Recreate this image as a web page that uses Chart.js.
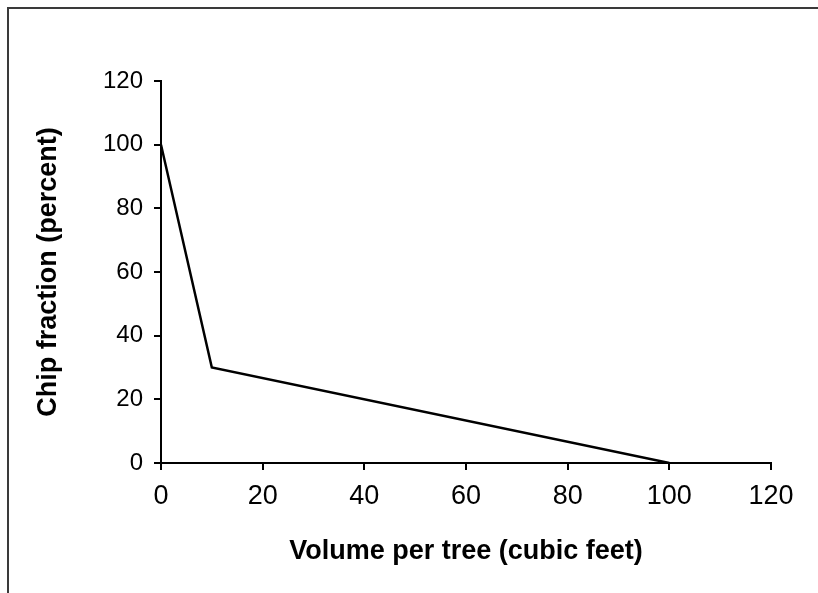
<!DOCTYPE html>
<html>
<head>
<meta charset="utf-8">
<script src="https://cdn.jsdelivr.net/npm/chart.js@4"></script>
<style>
html,body{margin:0;padding:0;background:#fff;}
#wrap{position:relative;width:818px;height:593px;}
</style>
</head>
<body>
<div id="wrap"><canvas id="c" width="818" height="593"></canvas></div>
<script>
const volumePerTree = [0, 10, 100];
const chipFraction = [100, 30, 0];
const xTicks = [0, 20, 40, 60, 80, 100, 120];
const yTicks = [0, 20, 40, 60, 80, 100, 120];
const xTitle = 'Volume per tree (cubic feet)';
const yTitle = 'Chip fraction (percent)';

const points = volumePerTree.map((v, i) => ({x: v, y: chipFraction[i]}));

const framePlugin = {
  id: 'frame',
  beforeDraw(chart) {
    const ctx = chart.ctx;
    ctx.save();
    ctx.fillStyle = '#fff';
    ctx.fillRect(0, 0, chart.width, chart.height);
    ctx.strokeStyle = '#3a3a3a';
    ctx.lineWidth = 2;
    ctx.beginPath();
    ctx.moveTo(8, 593);
    ctx.lineTo(8, 8);
    ctx.lineTo(818, 8);
    ctx.stroke();
    ctx.restore();
  }
};

const yTickFont = {family: 'Liberation Sans, Arial, sans-serif', size: 24};
const xTickFont = {family: 'Liberation Sans, Arial, sans-serif', size: 27};
const titleFont = {family: 'Liberation Sans, Arial, sans-serif', size: 27, weight: 'bold'};

new Chart(document.getElementById('c'), {
  type: 'line',
  data: {
    datasets: [{
      data: points,
      borderColor: '#000',
      borderWidth: 2.5,
      pointRadius: 0,
      tension: 0,
      fill: false
    }]
  },
  options: {
    responsive: false,
    animation: false,
    devicePixelRatio: 1,
    layout: {padding: {left: 0, top: 81, right: 47, bottom: 0}},
    plugins: {legend: {display: false}, tooltip: {enabled: false}},
    scales: {
      x: {
        type: 'linear',
        min: 0, max: 120,
        afterBuildTicks(s) { s.ticks = xTicks.map(v => ({value: v})); },
        afterFit(s) { s.height = 130; },
        ticks: {color: '#000', font: xTickFont, padding: 10, maxRotation: 0},
        grid: {drawOnChartArea: false, drawTicks: true, tickLength: 7, color: '#000', lineWidth: 2},
        border: {display: true, color: '#000', width: 2},
        title: {display: true, text: xTitle, color: '#000', font: titleFont, padding: {top: 0, bottom: 25}}
      },
      y: {
        type: 'linear',
        min: 0, max: 120,
        afterBuildTicks(s) { s.ticks = yTicks.map(v => ({value: v})); },
        afterFit(s) { s.width = 161; },
        ticks: {color: '#000', font: yTickFont, padding: 11},
        grid: {drawOnChartArea: false, drawTicks: true, tickLength: 7, color: '#000', lineWidth: 2},
        border: {display: true, color: '#000', width: 2},
        title: {display: true, text: yTitle, color: '#000', font: titleFont, padding: {top: 32, bottom: 0}}
      }
    }
  },
  plugins: [framePlugin]
});
</script>
</body>
</html>
